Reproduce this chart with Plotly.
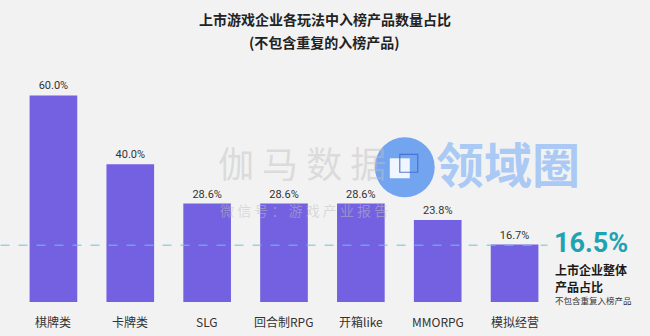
import plotly.graph_objects as go

categories = ["棋牌类", "卡牌类", "SLG", "回合制RPG", "开箱like", "MMORPG", "模拟经营"]
shares = [60.0, 40.0, 28.6, 28.6, 28.6, 23.8, 16.7]
overall_share = 16.5

BG = "#f2f2f2"
BAR = "#7461e2"
FONT = "Noto Sans CJK SC, Noto Sans, sans-serif"

W, H = 650, 336
ML, MR, MT, MB = 14.5, 96.5, 60.5, 34
PW, PH = W - ML - MR, H - MT - MB


def px(x, y):
    """Page pixel position -> paper coordinates."""
    return (x - ML) / PW, 1 - (y - MT) / PH


fig = go.Figure()
fig.add_trace(go.Bar(
    x=list(range(len(categories))),
    y=shares,
    width=0.62,
    marker=dict(color=BAR, line=dict(width=0)),
    text=[f"{v:.1f}%" for v in shares],
    textposition="outside",
    textfont=dict(size=11, color="#333333", family="Roboto, Noto Sans, sans-serif"),
    cliponaxis=False,
    hoverinfo="skip",
))

annotations = []
# category labels under the bars
for i, c in enumerate(categories):
    annotations.append(dict(x=i, y=0, xref="x", yref="y", text=c, showarrow=False,
                            yanchor="top", yshift=-9,
                            font=dict(size=12, color="#333333", family=FONT)))


def note(x, y, text, size, color, xanchor="left", family=FONT):
    px_x, px_y = px(x, y)
    return dict(x=px_x, y=px_y, xref="paper", yref="paper", text=text, showarrow=False,
                xanchor=xanchor, yanchor="middle",
                font=dict(size=size, color=color, family=family))


# title
annotations += [
    note(325, 18, "<b>上市游戏企业各玩法中入榜产品数量占比</b>", 14, "#222222", "center"),
    note(325, 41, "<b>(不包含重复的入榜产品)</b>", 14, "#222222", "center"),
]

# watermark
annotations += [
    note(216, 162, "伽 马 数 据", 36, "rgba(190,190,190,0.45)"),
    note(218, 210, "微 信 号 ： 游 戏 产 业 报 告", 14, "rgba(190,190,190,0.5)"),
    note(434, 162, "<b>领域圈</b>", 48, "rgba(150,190,245,0.8)"),
]

# overall share callout
annotations += [
    note(552, 243, "<b>16.5%</b>", 27, "#1fa3b3", family="Roboto, Noto Sans, sans-serif"),
    note(553, 269, "<b>上市企业整体</b>", 12, "#1a1a1a"),
    note(553, 286, "<b>产品占比</b>", 12, "#1a1a1a"),
    note(553, 300, "不包含重复入榜产品", 8.5, "#333333"),
]


def box(x0, y0, x1, y1):
    a0, b0 = px(x0, y1)
    a1, b1 = px(x1, y0)
    return dict(xref="paper", yref="paper", x0=a0, x1=a1, y0=b0, y1=b1)


shapes = [
    dict(type="line", xref="paper", yref="y", x0=-ML / PW, x1=(548 - ML) / PW,
         y0=overall_share, y1=overall_share,
         line=dict(color="#6cc3da", width=1, dash="dash")),
    # watermark logo
    dict(type="circle", fillcolor="rgba(100,155,240,0.9)", line=dict(width=0),
         layer="above", **box(375, 137, 435, 197)),
    dict(type="rect", fillcolor="rgba(255,255,255,0.9)", line=dict(width=0),
         layer="above", **box(390, 158, 410, 178)),
    dict(type="rect", fillcolor="rgba(0,0,0,0)",
         line=dict(width=1.2, color="rgba(70,110,200,0.9)"),
         layer="above", **box(400, 154, 418, 172)),
]

fig.update_layout(
    width=W, height=H,
    margin=dict(l=ML, r=MR, t=MT, b=MB),
    paper_bgcolor=BG, plot_bgcolor=BG,
    showlegend=False,
    xaxis=dict(range=[-0.5, 6.5], visible=False, fixedrange=True),
    yaxis=dict(range=[0, 70], visible=False, fixedrange=True),
    annotations=annotations,
    shapes=shapes,
)

fig.write_html("out.html", config={"displayModeBar": False})
